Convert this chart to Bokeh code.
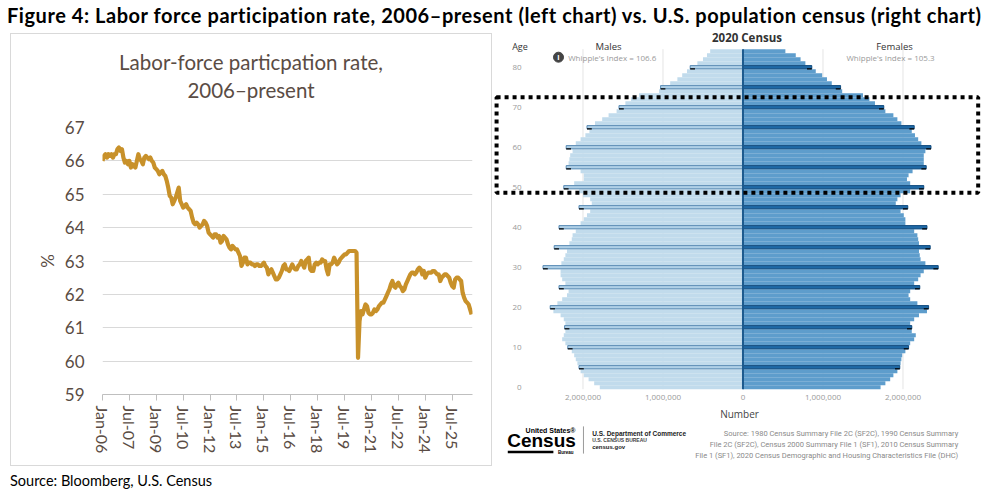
from datetime import datetime
from bokeh.plotting import figure
from bokeh.models import Range1d, FixedTicker, Div, BoxAnnotation
from bokeh.layouts import column, row
from bokeh.core.properties import value
from bokeh.embed import file_html
from bokeh.resources import INLINE

# ---------------- texts ----------------
FIG_TITLE = "Figure 4: Labor force participation rate, 2006–present (left chart) vs. U.S. population census (right chart)"
LEFT_TITLE = ["Labor-force particpation rate,", "2006–present"]
LEFT_SOURCE = "Source: Bloomberg, U.S. Census"

# ---------------- left chart data: labor-force participation rate, monthly (%) ----------------
LFPR = [
    66.0, 66.15, 66.2, 66.1, 66.2, 66.15, 66.2, 66.1, 66.2, 66.2, 66.35, 66.4,
    66.3, 66.35, 66.1, 65.95, 66.0, 65.9, 66.0, 65.8, 65.9, 65.85, 65.8, 66.0,
    66.2, 66.05, 66.0, 65.9, 66.1, 66.15, 66.1, 66.05, 66.1, 66.0, 65.95, 65.8,
    65.75, 65.7, 65.6, 65.65, 65.7, 65.6, 65.55, 65.4, 65.2, 64.95, 64.9, 64.7,
    64.8, 64.9, 65.05, 65.2, 64.8, 64.7, 64.6, 64.65, 64.7, 64.6, 64.55, 64.5,
    64.3, 64.15, 64.1, 64.15, 64.1, 64.0, 64.05, 64.1, 64.2, 64.15, 64.05, 63.85,
    63.8, 63.75, 63.7, 63.8, 63.8, 63.7, 63.75, 63.55, 63.6, 63.75, 63.7, 63.65,
    63.5, 63.4, 63.35, 63.45, 63.4, 63.35, 63.35, 63.25, 63.15, 62.85, 62.95, 63.1,
    63.1, 62.9, 62.95, 62.95, 62.9, 62.9, 62.85, 62.9, 62.9, 62.85, 62.85, 62.9,
    62.95, 62.85, 62.8, 62.6, 62.7, 62.75, 62.65, 62.55, 62.45, 62.45, 62.5, 62.6,
    62.7, 62.85, 62.9, 62.75, 62.75, 62.7, 62.8, 62.9, 62.8, 62.75, 62.75, 62.85,
    62.9, 63.0, 62.9, 62.8, 63.0, 63.05, 63.1, 62.75, 62.7, 62.7, 62.9, 62.95,
    62.9, 62.95, 62.95, 63.05, 63.0, 63.0, 62.75, 62.6, 62.9, 62.9, 62.95, 63.1,
    63.0, 62.9, 62.95, 63.05, 63.1, 63.15, 63.2, 63.2, 63.25, 63.3, 63.3, 63.3,
    63.3, 63.3, 63.25, 60.1, 61.2, 61.5, 61.4, 61.55, 61.7, 61.65, 61.45, 61.4,
    61.4, 61.45, 61.55, 61.5, 61.55, 61.65, 61.7, 61.75, 61.75, 61.85, 61.95, 62.05,
    62.15, 62.3, 62.4, 62.25, 62.2, 62.3, 62.35, 62.25, 62.2, 62.1, 62.15, 62.3,
    62.4, 62.5, 62.6, 62.65, 62.65, 62.6, 62.65, 62.75, 62.8, 62.75, 62.6, 62.7,
    62.5, 62.6, 62.65, 62.65, 62.65, 62.7, 62.7, 62.65, 62.6, 62.6, 62.4, 62.5,
    62.55, 62.6, 62.6, 62.55, 62.5, 62.35, 62.25, 62.2, 62.45, 62.5, 62.5, 62.45,
    62.4, 62.05, 61.9, 61.8, 61.75, 61.7, 61.55, 61.4,
]
X_TICK_LABELS = ["Jan-06", "Jul-07", "Jan-09", "Jul-10", "Jan-12", "Jul-13", "Jan-15",
                 "Jul-16", "Jan-18", "Jul-19", "Jan-21", "Jul-22", "Jan-24", "Jul-25"]
Y_TICKS = [59, 60, 61, 62, 63, 64, 65, 66, 67]
START = datetime(2006, 1, 1)

# ---------------- right chart data: 2020 Census, population by single year of age (millions) ----------------
AGES = list(range(0, 85))
MALES_M = [
    1.79, 1.86, 1.93, 1.99, 2.03, 2.05, 2.07, 2.09, 2.11, 2.14,
    2.19, 2.22, 2.26, 2.24, 2.22, 2.23, 2.22, 2.24, 2.28, 2.37,
    2.41, 2.32, 2.26, 2.20, 2.18, 2.30, 2.22, 2.26, 2.28, 2.28,
    2.50, 2.27, 2.24, 2.22, 2.20, 2.36, 2.17, 2.14, 2.13, 2.09,
    2.30, 2.03, 1.99, 1.95, 1.91, 2.05, 1.89, 1.91, 2.00, 2.05,
    2.24, 2.11, 1.99, 1.99, 2.03, 2.21, 2.18, 2.17, 2.16, 2.13,
    2.21, 2.09, 2.03, 1.97, 1.92, 1.95, 1.85, 1.76, 1.68, 1.58,
    1.55, 1.47, 1.40, 1.30, 1.05, 1.03, 0.91, 0.82, 0.76, 0.70,
    0.66, 0.57, 0.50, 0.45, 0.41,
]
FEMALES_M = [
    1.72, 1.78, 1.84, 1.88, 1.93, 1.96, 1.97, 1.98, 1.99, 2.03,
    2.07, 2.09, 2.14, 2.16, 2.11, 2.11, 2.09, 2.14, 2.20, 2.30,
    2.32, 2.18, 2.09, 2.07, 2.09, 2.21, 2.14, 2.19, 2.22, 2.26,
    2.44, 2.28, 2.22, 2.21, 2.20, 2.34, 2.20, 2.19, 2.18, 2.14,
    2.30, 2.03, 2.03, 2.01, 1.97, 2.06, 1.91, 1.93, 1.97, 2.09,
    2.26, 2.09, 2.05, 2.07, 2.12, 2.29, 2.26, 2.26, 2.26, 2.28,
    2.35, 2.23, 2.19, 2.15, 2.11, 2.14, 1.98, 1.93, 1.88, 1.78,
    1.76, 1.65, 1.58, 1.50, 1.24, 1.22, 1.11, 1.05, 0.99, 0.91,
    0.86, 0.78, 0.72, 0.66, 0.53,
]
AGE_TICKS = [0, 10, 20, 30, 40, 50, 60, 70, 80]
NUM_TICKS = [-2000000, -1000000, 0, 1000000, 2000000]
NUM_TICK_LABELS = ["2,000,000", "1,000,000", "0", "1,000,000", "2,000,000"]
WHIPPLE_MALES = 106.6
WHIPPLE_FEMALES = 105.3
HIGHLIGHT_AGES = (48.6, 72.5)
CENSUS_SOURCE = [
    "Source: 1980 Census Summary File 2C (SF2C), 1990 Census Summary",
    "File 2C (SF2C), Census 2000 Summary File 1 (SF1), 2010 Census Summary",
    "File 1 (SF1), 2020 Census Demographic and Housing Characteristics File (DHC)",
]

BROWN_TEXT = "#5a4c44"
GOLD = "#c8912a"

# ================= left chart =================
def month_index(lbl):
    d = datetime.strptime(lbl, "%b-%y")
    return (d.year - START.year) * 12 + (d.month - START.month)

tick_pos = [month_index(l) for l in X_TICK_LABELS]
months = list(range(len(LFPR)))

left = figure(width=480, height=349, x_range=Range1d(0, len(LFPR) - 0.4),
              y_range=Range1d(Y_TICKS[0], Y_TICKS[-1]),
              output_backend="svg", toolbar_location=None, title=None,
              min_border_left=91, min_border_right=19, min_border_top=11, min_border_bottom=71,
              background_fill_color="white", border_fill_color="white", outline_line_color=None)
left.line(x=months, y=LFPR, line_color=GOLD, line_width=4.2, line_join="round")

left.xgrid.visible = False
left.ygrid.ticker = FixedTicker(ticks=Y_TICKS)
left.ygrid.grid_line_color = "#d9d9d9"
left.ygrid.grid_line_width = 1

ya = left.yaxis[0]
ya.ticker = FixedTicker(ticks=Y_TICKS)
ya.axis_line_color = None
ya.major_tick_line_color = None
ya.minor_tick_line_color = None
ya.major_tick_out = 0
ya.major_tick_in = 0
ya.major_label_standoff = 18
ya.major_label_text_font = "Lato"
ya.major_label_text_font_size = "17px"
ya.major_label_text_color = BROWN_TEXT
ya.axis_label = "%"
ya.axis_label_text_font = "Lato"
ya.axis_label_text_font_size = "17px"
ya.axis_label_text_font_style = "normal"
ya.axis_label_text_color = BROWN_TEXT
ya.axis_label_standoff = 4

xa = left.xaxis[0]
xa.ticker = FixedTicker(ticks=tick_pos)
xa.major_label_overrides = {p: l for p, l in zip(tick_pos, X_TICK_LABELS)}
xa.major_label_orientation = "vertical"
xa.axis_line_color = "#bfbfbf"
xa.major_tick_line_color = "#bfbfbf"
xa.minor_tick_line_color = None
xa.major_tick_out = 6
xa.major_tick_in = 0
xa.major_label_standoff = 5
xa.major_label_text_font = "Lato"
xa.major_label_text_font_size = "16px"
xa.major_label_text_color = BROWN_TEXT

fig_title = Div(
    text=f'<div style="font:700 20px Lato;letter-spacing:0.55px;color:#000;white-space:nowrap;line-height:22px;margin-top:-4px;margin-left:-1px">{FIG_TITLE}</div>',
    width=978, height=20, margin=(0, 0, 0, 0))

chart_title = Div(
    text=f'<div style="width:480px;text-align:center;font:400 20.5px Lato;color:{BROWN_TEXT};line-height:27.7px;padding-top:15px;white-space:nowrap">{LEFT_TITLE[0]}<br>{LEFT_TITLE[1]}</div>',
    width=480, height=82, margin=(0, 0, 0, 0))

left_box = column(chart_title, left, margin=(5, 0, 0, 2),
                  styles={"border": "1px solid #d9d9d9", "background": "white"})
source_div = Div(
    text=f'<div style="font:400 14.5px Lato;color:#000;white-space:nowrap;line-height:20px">{LEFT_SOURCE}</div>',
    width=480, height=16, margin=(5, 0, 0, 2))
left_col = column(left_box, source_div, margin=(0, 0, 0, 0))

# ================= right chart: population pyramid =================
males = [v * 1e6 for v in MALES_M]
females = [v * 1e6 for v in FEMALES_M]

pyr = figure(width=494, height=459, x_range=Range1d(-3.131e6, 3.044e6),
             y_range=Range1d(-25.075, 89.675),
             output_backend="svg", toolbar_location=None, title=None,
             min_border_left=0, min_border_right=0, min_border_top=0, min_border_bottom=0,
             background_fill_color="white", border_fill_color="white", outline_line_color=None)
pyr.xgrid.visible = False
pyr.ygrid.visible = False

# faint reference lines at number ticks
grid_x = [t for t in NUM_TICKS if t != 0]
pyr.segment(x0=grid_x, y0=min(AGES) - 0.5, x1=grid_x, y1=max(AGES) + 0.5,
            line_color="#e4e4e4", line_width=1)

# all single-year bars
pyr.hbar(y=AGES, left=[-v for v in males], right=0, height=1.03,
         fill_color="#c1dbec", line_color=None)
pyr.hbar(y=AGES, left=0, right=females, height=1.03,
         fill_color="#5e9dcc", line_color=None)

# age-heaping bars (ages ending in 0 or 5)
heap_idx = [i for i, a in enumerate(AGES) if a % 5 == 0 and a > 0]
h_ages = [AGES[i] for i in heap_idx]
h_m = [males[i] for i in heap_idx]
h_f = [females[i] for i in heap_idx]
pyr.hbar(y=h_ages, left=[-v for v in h_m], right=0, height=0.8,
         fill_color="#afd0e7", line_color="#5d8db6", line_width=1)
pyr.hbar(y=h_ages, left=0, right=h_f, height=0.8,
         fill_color="#1f69a6", line_color="#174f80", line_width=1)
pyr.segment(x0=[-v for v in h_m], x1=[-v + 60000 for v in h_m],
            y0=[a - 0.4 for a in h_ages], y1=[a - 0.4 for a in h_ages],
            line_color="black", line_width=1.2)
pyr.segment(x0=[v - 60000 for v in h_f], x1=h_f,
            y0=[a - 0.4 for a in h_ages], y1=[a - 0.4 for a in h_ages],
            line_color="black", line_width=1.2)

# center axis line
pyr.segment(x0=[0], x1=[0], y0=[min(AGES) - 0.5], y1=[max(AGES) + 0.5],
            line_color="#1c5a8e", line_width=2)

# highlighted age band
pyr.add_layout(BoxAnnotation(left=-3.08e6, right=2.94e6,
                             bottom=HIGHLIGHT_AGES[0], top=HIGHLIGHT_AGES[1],
                             fill_color=None, fill_alpha=0, line_color="black",
                             line_alpha=1.0, line_width=4, line_dash="4 4"))

# axes
pxa = pyr.xaxis[0]
pxa.fixed_location = -1.2
pxa.ticker = FixedTicker(ticks=NUM_TICKS)
pxa.major_label_overrides = {t: l for t, l in zip(NUM_TICKS, NUM_TICK_LABELS)}
pxa.axis_line_color = None
pxa.major_tick_line_color = None
pxa.minor_tick_line_color = None
pxa.major_tick_out = 0
pxa.major_tick_in = 0
pxa.major_label_standoff = 3
pxa.major_label_text_font = "Open Sans"
pxa.major_label_text_font_size = "8px"
pxa.major_label_text_color = "#9a9a9a"
pxa.axis_label = "Number"
pxa.axis_label_text_font = "Open Sans"
pxa.axis_label_text_font_size = "10px"
pxa.axis_label_text_font_style = "normal"
pxa.axis_label_text_color = "#444444"
pxa.axis_label_standoff = 3

pya = pyr.yaxis[0]
pya.fixed_location = -2.73e6
pya.ticker = FixedTicker(ticks=AGE_TICKS)
pya.axis_line_color = None
pya.major_tick_line_color = None
pya.minor_tick_line_color = None
pya.major_tick_out = 0
pya.major_tick_in = 0
pya.major_label_standoff = 3
pya.major_label_text_font = "Open Sans"
pya.major_label_text_font_size = "8px"
pya.major_label_text_color = "#9a9a9a"


def txt(x, y, s, size, color="#333333", font="Open Sans", align="left", style="normal"):
    pyr.text(x=[x], y=[y], text=[s], text_font=value(font), text_font_size=size,
             text_color=color, text_align=align, text_baseline="middle",
             text_font_style=style)


txt(0.05e6, 87.5, "2020 Census", "11.5px", "#333333", align="center", style="bold")
txt(-2.885e6, 85.25, "Age", "9px", "#333333")
txt(-1.681e6, 85.25, "Males", "9.5px", "#333333", align="center")
txt(1.894e6, 85.25, "Females", "9.5px", "#333333", align="center")
pyr.scatter(x=[-2.306e6], y=[82.5], size=10, marker="circle", color="#444444")
txt(-2.306e6, 82.5, "i", "7.5px", "white", align="center", style="bold")
txt(-2.185e6, 82.5, f"Whipple's Index = {WHIPPLE_MALES}", "8px", "#9a9a9a")
txt(1.844e6, 82.5, f"Whipple's Index = {WHIPPLE_FEMALES}", "8px", "#9a9a9a", align="center")

# footer: logo + source
txt(-2.094e6, -10.8, "United States\u00ae", "7px", "#000000", font="Liberation Sans", align="right", style="bold")
txt(-2.9475e6, -13.3, "Census", "19px", "#000000", font="Liberation Sans", style="bold")
txt(-2.119e6, -16.2, "Bureau", "4.5px", "#000000", font="Liberation Sans", align="right", style="bold")
pyr.segment(x0=[-2.94e6], x1=[-2.37e6], y0=[-16.2], y1=[-16.2], line_color="black", line_width=2.5)
pyr.segment(x0=[-1.994e6], x1=[-1.994e6], y0=[-9.8], y1=[-16.6], line_color="#9a9a9a", line_width=1)
txt(-1.885e6, -11.5, "U.S. Department of Commerce", "6.5px", "#222222", font="Liberation Sans", style="bold")
txt(-1.885e6, -13.3, "U.S. CENSUS BUREAU", "5px", "#444444", font="Liberation Sans", style="bold")
txt(-1.885e6, -15.0, "census.gov", "6px", "#222222", font="Liberation Sans", style="bold")
for i, line in enumerate(CENSUS_SOURCE):
    txt(2.69e6, -11.5 - 2.83 * i, line, "7.5px", "#8a8a8a", font="Roboto", align="right")

page = column(fig_title, row(left_col, pyr, margin=(0, 0, 0, 0)), margin=(8, 0, 0, 8))

with open("out.html", "w") as f:
    f.write(file_html(page, INLINE))
